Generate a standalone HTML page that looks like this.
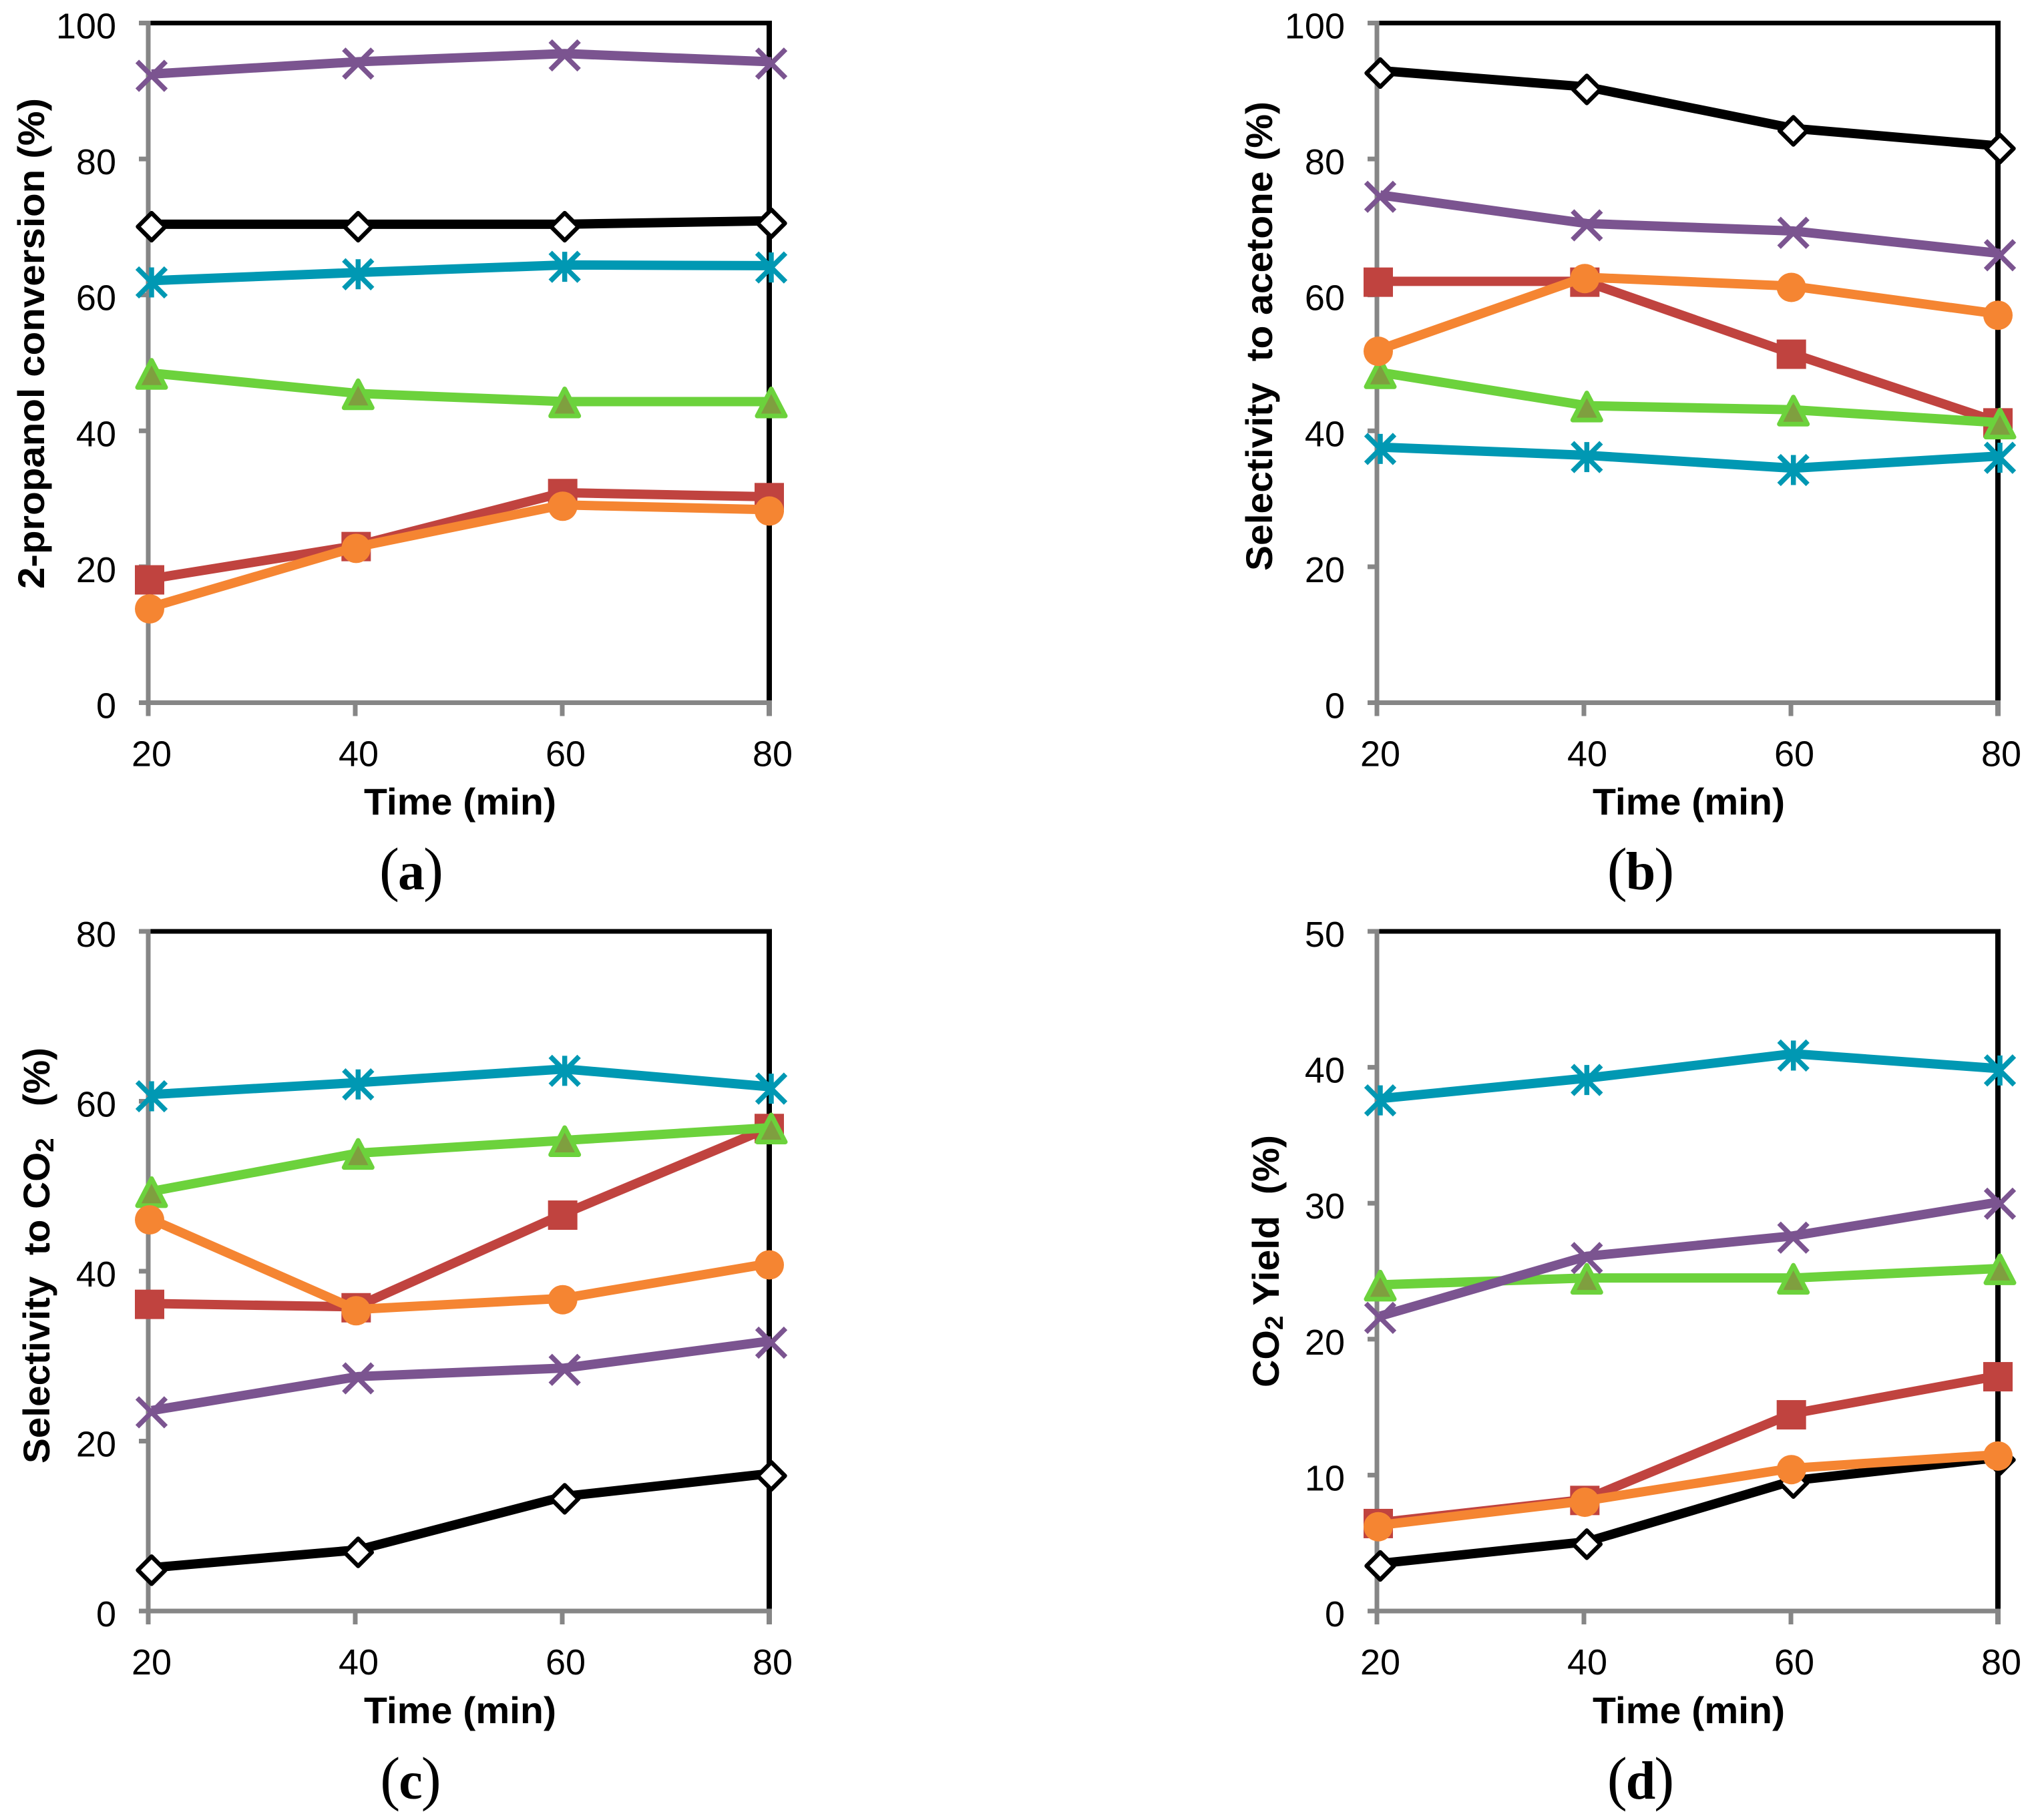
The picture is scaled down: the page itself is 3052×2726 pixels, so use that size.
<!DOCTYPE html>
<html lang="en">
<head>
<meta charset="utf-8">
<title>2-propanol oxidation results</title>
<style>
  html, body { margin: 0; padding: 0; background: #fff; }
  svg { display: block; }
  text { font-family: "Liberation Sans", sans-serif; fill: #000; white-space: pre; }
  .tick { font-size: 54px; }
  .title { font-size: 56px; font-weight: bold; }
  .sub { font-size: 38px; }
  .cap { font-family: "Liberation Serif", serif; font-size: 90px; text-anchor: middle; }
  .cap .l { font-weight: bold; font-size: 80px; }
</style>
</head>
<body>
<svg id="figure" width="3052" height="2726" viewBox="0 0 3052 2726" xmlns="http://www.w3.org/2000/svg">
  <rect x="0" y="0" width="3052" height="2726" fill="#ffffff"/>

  <g id="panel-a"></g>
  <g id="panel-b"></g>
  <g id="panel-c"></g>
  <g id="panel-d"></g>

  <text class="title" transform="translate(66 882) rotate(-90)" textLength="735" lengthAdjust="spacingAndGlyphs">2-propanol conversion (%)</text>
  <text class="title" transform="translate(1905 855) rotate(-90)" textLength="703" lengthAdjust="spacingAndGlyphs">Selectivity  to acetone (%)</text>
  <text class="title" transform="translate(74 2192) rotate(-90)" textLength="623" lengthAdjust="spacingAndGlyphs">Selectivity  to CO<tspan class="sub" dy="6">2</tspan><tspan dy="-6">   (%)</tspan></text>
  <text class="title" transform="translate(1915 2078) rotate(-90)" textLength="378" lengthAdjust="spacingAndGlyphs">CO<tspan class="sub" dy="6">2</tspan><tspan dy="-6"> Yield  (%)</tspan></text>

  <text class="title" x="545" y="1220" textLength="288" lengthAdjust="spacingAndGlyphs">Time (min)</text>
  <text class="title" x="2385" y="1220" textLength="288" lengthAdjust="spacingAndGlyphs">Time (min)</text>
  <text class="title" x="545" y="2581" textLength="288" lengthAdjust="spacingAndGlyphs">Time (min)</text>
  <text class="title" x="2385" y="2581" textLength="288" lengthAdjust="spacingAndGlyphs">Time (min)</text>

  <text class="cap" x="616" y="1332">(<tspan class="l" dx="-2">a</tspan><tspan dx="-2">)</tspan></text>
  <text class="cap" x="2457" y="1332">(<tspan class="l" dx="-2">b</tspan><tspan dx="-2">)</tspan></text>
  <text class="cap" x="615" y="2694">(<tspan class="l" dx="-2">c</tspan><tspan dx="-2">)</tspan></text>
  <text class="cap" x="2457" y="2694">(<tspan class="l" dx="-2">d</tspan><tspan dx="-2">)</tspan></text>
</svg>

<script>
const timeCategories = [20, 40, 60, 80];

const yTicksPercent100 = [0, 20, 40, 60, 80, 100];
const yTicksPercent80 = [0, 20, 40, 60, 80];
const yTicksPercent50 = [0, 10, 20, 30, 40, 50];

const conversionDiamond = [70.4, 70.4, 70.4, 70.9];
const conversionSquare = [18.2, 23.1, 30.9, 30.3];
const conversionTriangle = [48.5, 45.5, 44.3, 44.3];
const conversionCross = [92.5, 94.3, 95.5, 94.3];
const conversionStar = [62.1, 63.3, 64.4, 64.3];
const conversionCircle = [14, 22.9, 29.1, 28.4];

const acetoneDiamond = [93, 90.6, 84.5, 81.9];
const acetoneSquare = [62, 62, 51.4, 41.3];
const acetoneTriangle = [48.6, 43.7, 43.1, 41.2];
const acetoneCross = [74.7, 70.5, 69.4, 66.1];
const acetoneStar = [37.6, 36.4, 34.5, 36.3];
const acetoneCircle = [51.9, 62.6, 61.3, 57.2];

const co2SelDiamond = [5.1, 7.2, 13.5, 16.2];
const co2SelSquare = [36.2, 35.8, 46.7, 56.9];
const co2SelTriangle = [49.4, 53.9, 55.4, 56.9];
const co2SelCross = [23.6, 27.6, 28.6, 31.8];
const co2SelStar = [60.8, 62.2, 63.8, 61.7];
const co2SelCircle = [46.2, 35.5, 36.8, 40.9];

const co2YieldDiamond = [3.5, 5.1, 9.6, 11.3];
const co2YieldSquare = [6.5, 8.2, 14.5, 17.3];
const co2YieldTriangle = [24, 24.5, 24.5, 25.2];
const co2YieldCross = [21.7, 26.1, 27.6, 30.1];
const co2YieldStar = [37.7, 39.2, 41, 39.9];
const co2YieldCircle = [6.3, 8.1, 10.5, 11.5];

const SVGNS = 'http://www.w3.org/2000/svg';
const AXIS_GREY = '#868686';

function make(parent, tag, name, attrs) {
  const el = document.createElementNS(SVGNS, tag);
  
  
  for (const k in attrs) el.setAttribute(k, attrs[k]);
  parent.appendChild(el);
  return el;
}

const markerDrawers = {
  diamond(g, name, x, y, c) {
    const r = 20.5;
    make(g, 'polygon', name, { points: `${x},${y - r} ${x + r},${y} ${x},${y + r} ${x - r},${y}`, fill: '#ffffff', stroke: c.line, 'stroke-width': 6.4, 'stroke-linejoin': 'round' });
  },
  square(g, name, x, y, c) {
    make(g, 'rect', name, { x: x - 22, y: y - 22, width: 44, height: 44, fill: c.line });
  },
  triangle(g, name, x, y, c) {
    make(g, 'polygon', name, { points: `${x - 21},${y + 21.5} ${x + 21},${y + 21.5} ${x},${y - 19}`, fill: c.fill, stroke: c.line, 'stroke-width': 7, 'stroke-linejoin': 'round' });
  },
  cross(g, name, x, y, c) {
    const r = 21.5;
    make(g, 'path', name, { d: `M${x - r} ${y - r}L${x + r} ${y + r}M${x - r} ${y + r}L${x + r} ${y - r}`, fill: 'none', stroke: c.line, 'stroke-width': 7.5 });
  },
  star(g, name, x, y, c) {
    const r = 21.5;
    const v = 22.5;
    make(g, 'path', name, { d: `M${x - r} ${y - r}L${x + r} ${y + r}M${x - r} ${y + r}L${x + r} ${y - r}M${x} ${y - v}L${x} ${y + v}`, fill: 'none', stroke: c.line, 'stroke-width': 7.5 });
  },
  circle(g, name, x, y, c) {
    make(g, 'circle', name, { cx: x, cy: y, r: 22, fill: c.line });
  }
};

const seriesStyles = [
  { key: 'diamond', line: '#000000', fill: '#ffffff', shift: 3, drop: 3.7, width: 14 },
  { key: 'square', line: '#c0433f', fill: '#c0433f', shift: 0, drop: 1.3, width: 14 },
  { key: 'triangle', line: '#6cd23c', fill: '#7f9f3f', shift: 3, drop: 0, width: 14 },
  { key: 'cross', line: '#7b5490', fill: 'none', shift: 3, drop: 2.7, width: 14 },
  { key: 'star', line: '#0098b3', fill: 'none', shift: 3, drop: 2.7, width: 14 },
  { key: 'circle', line: '#f58532', fill: '#f58532', shift: 0, drop: 2, width: 14 }
];

function drawPanel(p) {
  const g = document.getElementById(p.id);
  const spanX = timeCategories[timeCategories.length - 1] - timeCategories[0];
  const yMax = p.yTicks[p.yTicks.length - 1];
  const axisX = v => p.left + (v - timeCategories[0]) / spanX * (p.right - p.left);
  const dataX = v => p.left + 2 + (v - timeCategories[0]) / spanX * (p.right - p.left - 2);
  const axisY = v => p.bottom - v / yMax * (p.bottom - p.top);

  make(g, 'line', 'plot-top-border', { x1: p.left + 2, x2: p.right + 4, y1: p.top, y2: p.top, stroke: '#000', 'stroke-width': 7 });
  make(g, 'line', 'plot-right-border', { x1: p.right, x2: p.right, y1: p.top - 3.5, y2: p.bottom, stroke: '#000', 'stroke-width': 8 });
  make(g, 'line', 'y-axis-line', { x1: p.left, x2: p.left, y1: p.top - 3.5, y2: p.bottom + 20, stroke: AXIS_GREY, 'stroke-width': 7 });
  make(g, 'line', 'x-axis-line', { x1: p.left - 14, x2: p.right + 4, y1: p.bottom, y2: p.bottom, stroke: AXIS_GREY, 'stroke-width': 7 });

  p.yTicks.forEach(t => {
    make(g, 'line', 'y-tick-' + t, { x1: p.left - 14, x2: p.left, y1: axisY(t), y2: axisY(t), stroke: AXIS_GREY, 'stroke-width': 7 });
    const lbl = make(g, 'text', 'y-tick-label-' + t, { class: 'tick', x: p.left - 48, y: axisY(t) + 23, 'text-anchor': 'end' });
    lbl.textContent = t;
  });
  timeCategories.forEach((t, i) => {
    const last = i === timeCategories.length - 1;
    make(g, 'line', 'x-tick-' + t, { x1: axisX(t), x2: axisX(t), y1: p.bottom, y2: p.bottom + 20, stroke: AXIS_GREY, 'stroke-width': last ? 8 : 7 });
    const lbl = make(g, 'text', 'x-tick-label-' + t, { class: 'tick', x: axisX(t) + 5, y: p.bottom + 95, 'text-anchor': 'middle' });
    lbl.textContent = t;
  });

  seriesStyles.forEach(style => {
    const values = p.series[style.key];
    const sg = make(g, 'g', 'series-' + style.key, {});
    const pts = values.map((v, i) => [dataX(timeCategories[i]) + style.shift, axisY(v)]);
    make(sg, 'polyline', 'series-line-' + style.key, {
      points: pts.map(q => q.join(',')).join(' '),
      fill: 'none',
      stroke: style.line,
      'stroke-width': style.width
    });
    pts.forEach((q, i) => {
      markerDrawers[style.key](sg, 'marker-' + style.key + '-' + timeCategories[i], q[0], q[1] + style.drop, style);
    });
  });
}

drawPanel({
  id: 'panel-a', left: 222, right: 1152, top: 34.5, bottom: 1052.5, yTicks: yTicksPercent100,
  series: { diamond: conversionDiamond, square: conversionSquare, triangle: conversionTriangle, cross: conversionCross, star: conversionStar, circle: conversionCircle }
});
drawPanel({
  id: 'panel-b', left: 2062, right: 2992, top: 34.5, bottom: 1052.5, yTicks: yTicksPercent100,
  series: { diamond: acetoneDiamond, square: acetoneSquare, triangle: acetoneTriangle, cross: acetoneCross, star: acetoneStar, circle: acetoneCircle }
});
drawPanel({
  id: 'panel-c', left: 222, right: 1152, top: 1395, bottom: 2413, yTicks: yTicksPercent80,
  series: { diamond: co2SelDiamond, square: co2SelSquare, triangle: co2SelTriangle, cross: co2SelCross, star: co2SelStar, circle: co2SelCircle }
});
drawPanel({
  id: 'panel-d', left: 2062, right: 2992, top: 1395, bottom: 2413, yTicks: yTicksPercent50,
  series: { diamond: co2YieldDiamond, square: co2YieldSquare, triangle: co2YieldTriangle, cross: co2YieldCross, star: co2YieldStar, circle: co2YieldCircle }
});
</script>
</body>
</html>
